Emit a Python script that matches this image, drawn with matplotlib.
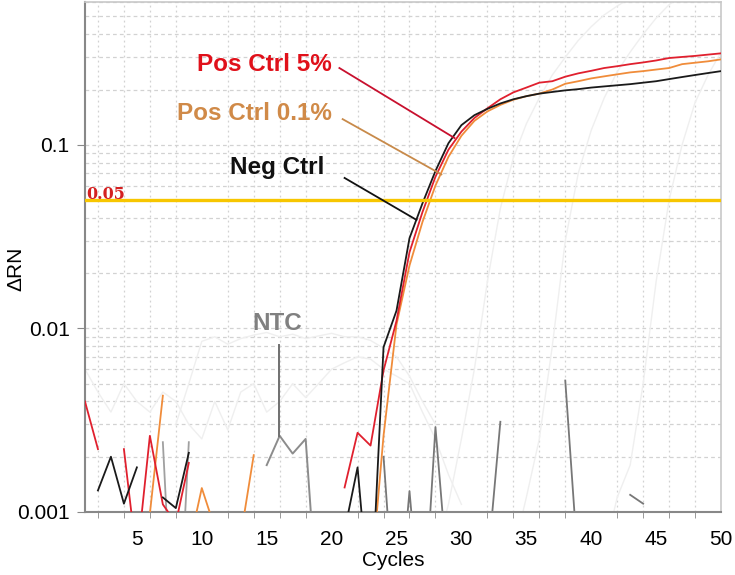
import numpy as np
import matplotlib
matplotlib.use("Agg")
from matplotlib import pyplot as plt
from matplotlib.ticker import FixedLocator, NullFormatter, LogLocator

# amplification plot, delta Rn per cycle (log scale)
cycles = np.arange(1, 51)
nan = np.nan

pos_ctrl_5 = [0.0040, 0.0022, nan, 0.0022, 0.00055, 0.0026, 0.0011, 0.00087, 0.00185, nan,
              nan, nan, nan, nan, nan, nan, nan, nan, nan, nan,
              0.00136, 0.0027, 0.0023, 0.0059, 0.011, 0.026, 0.043, 0.067, 0.094, 0.118,
              0.140, 0.158, 0.177, 0.193, 0.205, 0.218, 0.222, 0.235, 0.245, 0.253,
              0.262, 0.268, 0.275, 0.281, 0.288, 0.297, 0.301, 0.305, 0.310, 0.315]

pos_ctrl_01 = [nan, nan, nan, nan, nan, 0.00098, 0.0043, nan, 0.00064, 0.00135,
               0.00082, nan, 0.00074, 0.00204, nan, nan, nan, nan, nan, nan,
               nan, nan, 0.0004, 0.0026, 0.0105, 0.022, 0.038, 0.060, 0.086, 0.112,
               0.135, 0.152, 0.165, 0.176, 0.184, 0.190, 0.200, 0.215, 0.222, 0.230,
               0.236, 0.242, 0.248, 0.252, 0.257, 0.262, 0.275, 0.280, 0.285, 0.292]

neg_ctrl = [nan, 0.00131, 0.0020, 0.00111, 0.00175, nan, 0.0012, 0.00105, 0.0021, nan,
            nan, nan, nan, nan, nan, nan, nan, nan, nan, nan,
            0.00079, 0.00175, 0.00027, 0.0079, 0.0125, 0.031, 0.048, 0.072, 0.102, 0.128,
            0.145, 0.157, 0.168, 0.177, 0.184, 0.190, 0.194, 0.198, 0.201, 0.205,
            0.208, 0.211, 0.214, 0.218, 0.222, 0.228, 0.234, 0.240, 0.246, 0.252]

ntc = [nan] * 14 + [0.0018, 0.0026, 0.00208, 0.0025, 0.00025] + [nan] * 31

# other wells near baseline
well_a = [nan] * 6 + [0.0024, 0.0001, 0.0024] + [nan] * 41
well_b = ([nan] * 23 + [0.0020, 0.0002, 0.0013, 0.0002, 0.0029, 0.0004, nan,
                        nan, 0.0005, 0.0031, nan, nan, nan, nan, 0.0052, 0.0005, nan,
                        nan, nan, 0.00124, 0.00111] + [nan] * 6)

# faint background wells
faint_1 = [nan] * 27 + [0.0006, 0.0011, 0.0025, 0.006, 0.018, 0.045, 0.085, 0.13, 0.18,
                        0.24, 0.30, 0.37, 0.44, 0.51, 0.57, 0.63] + [nan] * 7
faint_2 = [nan] * 33 + [0.0006, 0.0012, 0.0025, 0.008, 0.03, 0.07, 0.12, 0.18, 0.25,
                        0.32, 0.40, 0.49, 0.58, 0.66] + [nan] * 3
faint_3 = [nan] * 40 + [0.0006, 0.0012, 0.0018, 0.005, 0.018, 0.05, 0.10, 0.17, 0.24, 0.32]
faint_4 = [0.006, 0.0045, 0.0035, 0.005, 0.004, 0.0035, 0.0045, 0.004, 0.003, 0.0025,
           0.004, 0.0028, 0.0045, 0.005, 0.0035, 0.004, 0.005, 0.0042, 0.005, 0.006,
           0.0065, 0.007, 0.0068, 0.006, 0.0055, 0.005, 0.0035, 0.0025, 0.0016, 0.0011] + [nan] * 20
faint_5 = [nan] * 7 + [0.003, 0.005, 0.0085, 0.009, 0.0082, 0.0088, 0.0092, 0.0095, 0.009,
                       0.0093, 0.0088, 0.0091, 0.0094, 0.009, 0.009, 0.0086, 0.0078, 0.007,
                       0.0055, 0.004, 0.003] + [nan] * 22

threshold = 0.05

plt.rcParams["font.family"] = ["Liberation Sans", "DejaVu Sans"]

fig = plt.figure(figsize=(7.35, 5.75), dpi=100)
ax = fig.add_axes([0.1156, 0.1096, 0.8654, 0.887])
ax.set_yscale("log")
ax.set_xlim(1, 50)
ax.set_ylim(0.001, 0.6)

for f in [faint_1, faint_2, faint_3, faint_4, faint_5]:
    ax.plot(cycles, f, color="#efefef", lw=1.0, zorder=1)

ax.plot(cycles, well_a, color="#a0a0a0", lw=1.3, zorder=2)
ax.plot(cycles, well_b, color="#777777", lw=1.3, zorder=2)
ax.plot(cycles, ntc, color="#8c8c8c", lw=1.4, zorder=2)
ax.plot(cycles, neg_ctrl, color="#1a1a1a", lw=1.3, zorder=4)
ax.plot(cycles, pos_ctrl_01, color="#f08c3a", lw=1.3, zorder=3)
ax.plot(cycles, pos_ctrl_5, color="#e0202e", lw=1.3, zorder=3)

ax.axhline(threshold, color="#f7c600", lw=2.4, zorder=5)
ax.text(1.1, 0.0508, "0.05", family="DejaVu Serif", fontweight="bold",
        fontsize=11.5, color="#d42020", va="baseline", ha="left", zorder=6)

# labels with leader lines
lab = dict(fontsize=17.5, fontweight="bold", va="center")
ax.text(20.0, 0.275, "Pos Ctrl 5%", color="#e0101a", ha="right", **lab)
ax.plot([20.6, 29.46], [0.262, 0.109], color="#c8102e", lw=1.3, zorder=6)
ax.text(20.0, 0.149, "Pos Ctrl 0.1%", color="#d08a48", ha="right", **lab)
ax.plot([20.85, 28.46], [0.138, 0.069], color="#c88a4a", lw=1.3, zorder=6)
ax.text(19.46, 0.075, "Neg Ctrl", color="#111111", ha="right", **lab)
ax.plot([21.0, 26.54], [0.066, 0.039], color="#111111", lw=1.3, zorder=6)
ax.text(15.85, 0.0106, "NTC", color="#808080", ha="center", **lab)
ax.plot([15.95, 15.95], [0.0081, 0.0026], color="#707070", lw=1.4, zorder=6)

# axes styling
ax.xaxis.set_major_locator(FixedLocator(np.arange(5, 51, 5)))
ax.xaxis.set_minor_locator(FixedLocator(np.arange(2, 51, 2)))
ax.tick_params(axis="x", which="major", length=0, labelsize=15, pad=13)
ax.tick_params(axis="x", which="minor", length=4, color="#888888")
ax.yaxis.set_major_locator(FixedLocator([0.001, 0.01, 0.1]))
ax.set_yticklabels(["0.001", "0.01", "0.1"])
ax.yaxis.set_minor_locator(LogLocator(base=10, subs=np.arange(2, 10)))
ax.yaxis.set_minor_formatter(NullFormatter())
ax.tick_params(axis="y", which="major", length=6, color="#888888", labelsize=15, pad=5)
ax.tick_params(axis="y", which="minor", length=0)

ax.grid(axis="x", which="minor", color="#d2d2d2", ls=(0, (1.5, 2.5)), lw=0.9)
ax.grid(axis="y", which="both", color="#d2d2d2", ls=(0, (3, 2.5)), lw=0.9)
ax.set_axisbelow(True)

for side in ["left", "bottom"]:
    ax.spines[side].set_color("#888888")
    ax.spines[side].set_linewidth(1.5)
for side in ["top", "right"]:
    ax.spines[side].set_color("#c8c8c8")
    ax.spines[side].set_linewidth(1.2)

fig.text(16 / 735, 1 - 269 / 575, "ΔRN", rotation=90, fontsize=15, ha="center", va="center")
fig.text(393 / 735, 1 - 561 / 575, "Cycles", fontsize=15, ha="center", va="center")

fig.savefig("out.png", dpi=100)
